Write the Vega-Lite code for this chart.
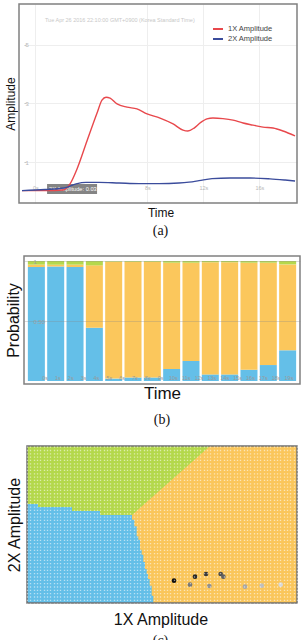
{
  "$schema": "https://vega.github.io/schema/vega-lite/v6.json",
  "padding": {"left": 4, "top": 3, "right": 0, "bottom": 0},
  "background": "white",
  "columns": 1,
  "spacing": 17,
  "config": {
    "font": "Liberation Sans",
    "view": {"stroke": "#808080", "strokeWidth": 1.5},
    "axis": {"labelFont": "Liberation Sans", "titleFont": "Liberation Sans", "titleColor": "#111111", "titleFontWeight": "normal", "minExtent": 0, "labelOverlap": false},
    "title": {"font": "Liberation Serif", "fontSize": 14, "fontWeight": "normal", "orient": "bottom", "color": "#111111"}
  },
  "concat": [
    {
      "width": 273,
      "height": 199,
      "title": {"text": "(a)", "offset": 6},
      "view": {"stroke": null},
      "layer": [
        {
          "data": {"values": [{"label": "2X Amplitude: 0.03"}]},
          "mark": {"type": "rect", "color": "#6e6e6e", "opacity": 0.85},
          "encoding": {
            "x": {"datum": 0.84},
            "x2": {"datum": 4.41},
            "y": {"datum": 0.255},
            "y2": {"datum": -0.085}
          }
        },
        {
          "data": {"values": [{"label": "2X Amplitude: 0.03"}]},
          "mark": {"type": "text", "color": "#ffffff", "fontSize": 5.7, "align": "left", "baseline": "middle"},
          "encoding": {
            "x": {"datum": 0.98},
            "y": {"datum": 0.085},
            "text": {"field": "label"}
          }
        },
        {
          "data": {"values": [{"stamp": "Tue Apr 26 2016 22:10:00 GMT+0900 (Korea Standard Time)"}]},
          "mark": {"type": "text", "color": "#c8c8c8", "fontSize": 5.5, "align": "left", "baseline": "middle"},
          "encoding": {
            "x": {"datum": 0.69},
            "y": {"datum": 5.83},
            "text": {"field": "stamp"}
          }
        },
        {
          "data": {"values": [
            {"series": "1X Amplitude", "t": -0.95, "amp": 0.03},
            {"series": "1X Amplitude", "t": 0.69, "amp": 0.03},
            {"series": "1X Amplitude", "t": 1.98, "amp": 0.05},
            {"series": "1X Amplitude", "t": 2.48, "amp": 0.26},
            {"series": "1X Amplitude", "t": 2.98, "amp": 0.77},
            {"series": "1X Amplitude", "t": 3.69, "amp": 1.72},
            {"series": "1X Amplitude", "t": 4.41, "amp": 2.67},
            {"series": "1X Amplitude", "t": 4.76, "amp": 3.11},
            {"series": "1X Amplitude", "t": 5.05, "amp": 3.21},
            {"series": "1X Amplitude", "t": 5.34, "amp": 3.18},
            {"series": "1X Amplitude", "t": 5.84, "amp": 2.98},
            {"series": "1X Amplitude", "t": 6.55, "amp": 2.87},
            {"series": "1X Amplitude", "t": 7.26, "amp": 2.81},
            {"series": "1X Amplitude", "t": 7.98, "amp": 2.64},
            {"series": "1X Amplitude", "t": 8.91, "amp": 2.5},
            {"series": "1X Amplitude", "t": 9.84, "amp": 2.3},
            {"series": "1X Amplitude", "t": 10.55, "amp": 2.09},
            {"series": "1X Amplitude", "t": 10.9, "amp": 2.06},
            {"series": "1X Amplitude", "t": 11.34, "amp": 2.16},
            {"series": "1X Amplitude", "t": 11.76, "amp": 2.33},
            {"series": "1X Amplitude", "t": 12.26, "amp": 2.47},
            {"series": "1X Amplitude", "t": 12.69, "amp": 2.5},
            {"series": "1X Amplitude", "t": 13.4, "amp": 2.48},
            {"series": "1X Amplitude", "t": 14.12, "amp": 2.43},
            {"series": "1X Amplitude", "t": 14.84, "amp": 2.33},
            {"series": "1X Amplitude", "t": 15.55, "amp": 2.26},
            {"series": "1X Amplitude", "t": 16.26, "amp": 2.19},
            {"series": "1X Amplitude", "t": 16.98, "amp": 2.16},
            {"series": "1X Amplitude", "t": 17.69, "amp": 2.06},
            {"series": "1X Amplitude", "t": 18.55, "amp": 1.89},
            {"series": "2X Amplitude", "t": -0.95, "amp": 0.03},
            {"series": "2X Amplitude", "t": 0.69, "amp": 0.07},
            {"series": "2X Amplitude", "t": 2.05, "amp": 0.12},
            {"series": "2X Amplitude", "t": 2.91, "amp": 0.26},
            {"series": "2X Amplitude", "t": 3.62, "amp": 0.31},
            {"series": "2X Amplitude", "t": 4.55, "amp": 0.31},
            {"series": "2X Amplitude", "t": 5.98, "amp": 0.29},
            {"series": "2X Amplitude", "t": 7.41, "amp": 0.27},
            {"series": "2X Amplitude", "t": 8.84, "amp": 0.27},
            {"series": "2X Amplitude", "t": 10.26, "amp": 0.29},
            {"series": "2X Amplitude", "t": 10.98, "amp": 0.32},
            {"series": "2X Amplitude", "t": 11.69, "amp": 0.37},
            {"series": "2X Amplitude", "t": 12.62, "amp": 0.44},
            {"series": "2X Amplitude", "t": 13.91, "amp": 0.46},
            {"series": "2X Amplitude", "t": 15.34, "amp": 0.46},
            {"series": "2X Amplitude", "t": 16.76, "amp": 0.43},
            {"series": "2X Amplitude", "t": 17.84, "amp": 0.39},
            {"series": "2X Amplitude", "t": 18.55, "amp": 0.36}
          ]},
          "mark": {"type": "line", "interpolate": "monotone", "strokeWidth": 1.4},
          "encoding": {
            "x": {
              "field": "t", "type": "quantitative",
              "scale": {"domain": [-0.807, 18.69], "nice": false, "zero": false},
              "axis": {
                "title": "Time", "titleFontSize": 12, "titlePadding": 4,
                "values": [0, 5, 6, 7, 8, 9, 10, 11, 12, 13, 14, 15, 16, 17, 18],
                "labelOverlap": false,
                "labelExpr": "datum.value + 's'",
                "labelFontSize": 5.5, "labelColor": "#b8b8b8", "labelPadding": -18, "labelAlign": "center", "labelDx": 2,
                "ticks": false, "domain": false, "grid": true, "gridColor": "#eeeeee"
              }
            },
            "y": {
              "field": "amp", "type": "quantitative",
              "scale": {"domain": [-0.39, 6.38], "nice": false, "zero": false},
              "axis": {
                "title": "Amplitude", "titleFontSize": 12, "titlePadding": 6.3,
                "values": [1, 2, 3, 4, 5, 6],
                "labelOverlap": false,
                "labelFontSize": 6, "labelColor": "#b8b8b8", "labelAlign": "left", "labelPadding": 1,
                "ticks": true, "tickSize": -2, "tickColor": "#c8c8c8", "domain": false, "grid": true, "gridColor": "#eeeeee"
              }
            },
            "color": {
              "field": "series", "type": "nominal",
              "scale": {"domain": ["1X Amplitude", "2X Amplitude"], "range": ["#e8484c", "#3b4c9c"]},
              "legend": {
                "orient": "none", "legendX": 188, "legendY": 19, "title": null,
                "symbolType": "stroke", "symbolSize": 100, "symbolStrokeWidth": 2,
                "labelFontSize": 7.5, "labelColor": "#444444", "labelOffset": 4, "rowPadding": 0, "padding": 0
              }
            }
          }
        },
        {
          "data": {"values": [{}]},
          "mark": {"type": "rect", "filled": false, "stroke": "#808080", "strokeWidth": 1.5},
          "encoding": {
            "x": {"datum": -1.164},
            "x2": {"datum": 18.69},
            "y": {"datum": 6.38},
            "y2": {"datum": -0.39}
          }
        }
      ]
    },
    {
      "width": 276,
      "height": 128,
      "title": {"text": "(b)", "offset": 12},
      "resolve": {"scale": {"x": "independent"}},
      "layer": [
        {
          "data": {"values": [
            {"win": 1, "cls": "Normal", "k": 1, "p": 0.95}, {"win": 1, "cls": "Unbalance", "k": 2, "p": 0.02}, {"win": 1, "cls": "Misalignment", "k": 3, "p": 0.03},
            {"win": 2, "cls": "Normal", "k": 1, "p": 0.955}, {"win": 2, "cls": "Unbalance", "k": 2, "p": 0.015}, {"win": 2, "cls": "Misalignment", "k": 3, "p": 0.03},
            {"win": 3, "cls": "Normal", "k": 1, "p": 0.95}, {"win": 3, "cls": "Unbalance", "k": 2, "p": 0.02}, {"win": 3, "cls": "Misalignment", "k": 3, "p": 0.03},
            {"win": 4, "cls": "Normal", "k": 1, "p": 0.444}, {"win": 4, "cls": "Unbalance", "k": 2, "p": 0.52}, {"win": 4, "cls": "Misalignment", "k": 3, "p": 0.036},
            {"win": 5, "cls": "Normal", "k": 1, "p": 0.02}, {"win": 5, "cls": "Unbalance", "k": 2, "p": 0.975}, {"win": 5, "cls": "Misalignment", "k": 3, "p": 0.005},
            {"win": 6, "cls": "Normal", "k": 1, "p": 0.03}, {"win": 6, "cls": "Unbalance", "k": 2, "p": 0.965}, {"win": 6, "cls": "Misalignment", "k": 3, "p": 0.005},
            {"win": 7, "cls": "Normal", "k": 1, "p": 0.03}, {"win": 7, "cls": "Unbalance", "k": 2, "p": 0.965}, {"win": 7, "cls": "Misalignment", "k": 3, "p": 0.005},
            {"win": 8, "cls": "Normal", "k": 1, "p": 0.1}, {"win": 8, "cls": "Unbalance", "k": 2, "p": 0.886}, {"win": 8, "cls": "Misalignment", "k": 3, "p": 0.014},
            {"win": 9, "cls": "Normal", "k": 1, "p": 0.167}, {"win": 9, "cls": "Unbalance", "k": 2, "p": 0.819}, {"win": 9, "cls": "Misalignment", "k": 3, "p": 0.014},
            {"win": 10, "cls": "Normal", "k": 1, "p": 0.055}, {"win": 10, "cls": "Unbalance", "k": 2, "p": 0.935}, {"win": 10, "cls": "Misalignment", "k": 3, "p": 0.01},
            {"win": 11, "cls": "Normal", "k": 1, "p": 0.055}, {"win": 11, "cls": "Unbalance", "k": 2, "p": 0.935}, {"win": 11, "cls": "Misalignment", "k": 3, "p": 0.01},
            {"win": 12, "cls": "Normal", "k": 1, "p": 0.094}, {"win": 12, "cls": "Unbalance", "k": 2, "p": 0.892}, {"win": 12, "cls": "Misalignment", "k": 3, "p": 0.014},
            {"win": 13, "cls": "Normal", "k": 1, "p": 0.133}, {"win": 13, "cls": "Unbalance", "k": 2, "p": 0.853}, {"win": 13, "cls": "Misalignment", "k": 3, "p": 0.014},
            {"win": 14, "cls": "Normal", "k": 1, "p": 0.256}, {"win": 14, "cls": "Unbalance", "k": 2, "p": 0.716}, {"win": 14, "cls": "Misalignment", "k": 3, "p": 0.028}
          ]},
          "mark": {"type": "bar"},
          "encoding": {
            "x": {
              "field": "win", "type": "ordinal",
              "scale": {"paddingInner": 0.12, "paddingOuter": 0.2},
              "axis": {"title": "Time", "titleFontSize": 17, "titlePadding": 1, "labels": false, "ticks": false, "domain": false}
            },
            "y": {
              "field": "p", "type": "quantitative", "stack": "zero",
              "scale": {"domain": [-0.025, 1.042], "nice": false, "zero": false},
              "axis": {
                "title": "Probability", "titleFontSize": 16, "titlePadding": 3,
                "values": [0.5, 1],
                "labelOverlap": false,
                "labelExpr": "datum.value == 1 ? '1' : '0.50'",
                "labelAlign": "left", "labelPadding": -9, "labelFontSize": 6, "labelColor": "#a0a0a0",
                "ticks": false, "domain": false, "grid": true, "gridColor": "#888888", "gridOpacity": 0.3, "zindex": 1
              }
            },
            "color": {
              "field": "cls", "type": "nominal",
              "scale": {"domain": ["Normal", "Unbalance", "Misalignment"], "range": ["#64bfe8", "#fbc75c", "#b5d84c"]},
              "legend": null
            },
            "order": {"field": "k", "type": "quantitative"}
          }
        },
        {
          "data": {"values": [
            {"t": 0, "lab": "0s"}, {"t": 1, "lab": "1s"}, {"t": 2, "lab": "2s"}, {"t": 3, "lab": "3s"},
            {"t": 4, "lab": "4s"}, {"t": 5, "lab": "5s"}, {"t": 6, "lab": "6s"}, {"t": 7, "lab": "7s"},
            {"t": 8, "lab": "8s"}, {"t": 9, "lab": "9s"}, {"t": 10, "lab": "10s"}, {"t": 11, "lab": "11s"},
            {"t": 12, "lab": "12s"}, {"t": 13, "lab": "13s"}, {"t": 14, "lab": "14s"}, {"t": 15, "lab": "15s"},
            {"t": 16, "lab": "16s"}, {"t": 17, "lab": "17s"}, {"t": 18, "lab": "18s"}, {"t": 19, "lab": "19s"}
          ]},
          "mark": {"type": "text", "fontSize": 5.5, "color": "#9a9a9a", "baseline": "middle"},
          "encoding": {
            "x": {"field": "t", "type": "quantitative", "scale": {"domain": [-1.64, 19.86], "nice": false, "zero": false}, "axis": null},
            "y": {"datum": 0.025},
            "text": {"field": "lab"}
          }
        }
      ]
    },
    {
      "width": 273,
      "height": 157,
      "title": {"text": "(c)", "offset": 7},
      "view": {"stroke": null},
      "layer": [
        {
          "data": {"values": [{}]},
          "mark": {"type": "rect", "color": "#fac65b"},
          "encoding": {
            "x": {
              "datum": 0,
              "scale": {"domain": [-0.9, 81], "nice": false, "zero": false},
              "axis": {
                "title": "1X Amplitude", "titleFontSize": 16, "titlePadding": 8,
                "labels": false, "ticks": false, "domain": false,
                "grid": true, "tickCount": 82, "gridColor": "#ffffff", "gridOpacity": 0.55,
                "gridWidth": 1.3, "gridDash": [1.3, 2.03], "zindex": 1
              }
            },
            "x2": {"datum": 81},
            "y": {
              "datum": 0,
              "scale": {"domain": [0, 47.1], "nice": false, "zero": false},
              "axis": {"title": "2X Amplitude", "titleFontSize": 16, "titlePadding": 1.3, "labels": false, "ticks": false, "domain": false, "grid": false}
            },
            "y2": {"datum": 47.1}
          }
        },
        {
          "data": {"values": [
            {"u": 0, "lo": 29.7}, {"u": 3.3, "lo": 29.7}, {"u": 3.3, "lo": 28.8}, {"u": 13.5, "lo": 28.8},
            {"u": 13.5, "lo": 27.6}, {"u": 21.9, "lo": 27.6}, {"u": 21.9, "lo": 26.4}, {"u": 31.5, "lo": 26.4},
            {"u": 54.9, "lo": 47.1}
          ]},
          "mark": {"type": "area", "color": "#b4d84b", "interpolate": "linear"},
          "encoding": {
            "x": {"field": "u", "type": "quantitative"},
            "y": {"field": "lo", "type": "quantitative"},
            "y2": {"datum": 47.1}
          }
        },
        {
          "data": {"values": [
            {"u": 0, "top": 29.7}, {"u": 3.3, "top": 28.8}, {"u": 13.5, "top": 27.6}, {"u": 21.9, "top": 26.4},
            {"u": 31.5, "top": 25}, {"u": 32.2, "top": 23}, {"u": 32.9, "top": 20}, {"u": 33.4, "top": 19},
            {"u": 33.9, "top": 16}, {"u": 34.4, "top": 14.5}, {"u": 34.9, "top": 12.3}, {"u": 35.4, "top": 10.2},
            {"u": 35.9, "top": 8.7}, {"u": 36.3, "top": 7.2}, {"u": 36.8, "top": 5.2}, {"u": 37.4, "top": 2.2},
            {"u": 37.9, "top": 0}
          ]},
          "mark": {"type": "area", "color": "#64bfe8", "interpolate": "step-after"},
          "encoding": {
            "x": {"field": "u", "type": "quantitative"},
            "y": {"field": "top", "type": "quantitative"}
          }
        },
        {
          "data": {"values": [
            {"u": 44.1, "v": 6.7, "seq": 1}, {"u": 50.4, "v": 7.9, "seq": 2}, {"u": 53.7, "v": 8.7, "seq": 3},
            {"u": 58.1, "v": 8.7, "seq": 4}, {"u": 58.9, "v": 7.9, "seq": 5}, {"u": 48.9, "v": 5.5, "seq": 6},
            {"u": 54.7, "v": 5.1, "seq": 7}, {"u": 65.4, "v": 4.9, "seq": 8}, {"u": 70.4, "v": 5.2, "seq": 9},
            {"u": 76.1, "v": 5.5, "seq": 10}
          ]},
          "mark": {"type": "circle", "size": 22, "opacity": 1},
          "encoding": {
            "x": {"field": "u", "type": "quantitative"},
            "y": {"field": "v", "type": "quantitative"},
            "color": {"field": "seq", "type": "quantitative", "scale": {"range": ["#111111", "#d8d8d8"]}, "legend": null}
          }
        },
        {
          "data": {"values": [{}]},
          "mark": {"type": "rect", "filled": false, "stroke": "#707070", "strokeWidth": 1.5},
          "encoding": {
            "x": {"datum": 0},
            "x2": {"datum": 81},
            "y": {"datum": 0},
            "y2": {"datum": 47.1}
          }
        }
      ]
    }
  ]
}
